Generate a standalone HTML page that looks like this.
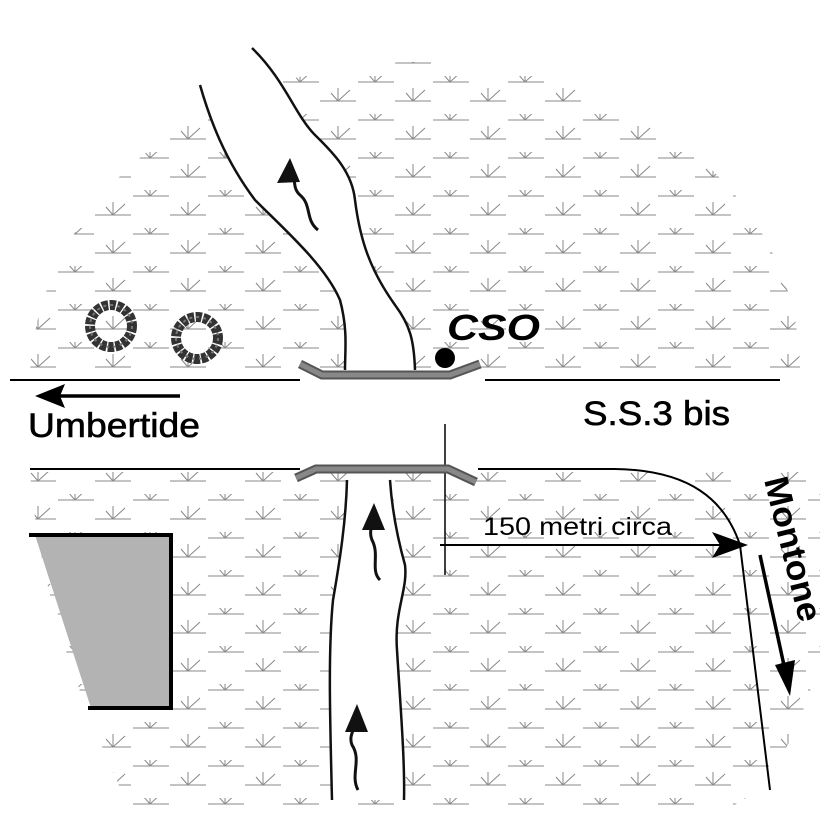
<!DOCTYPE html>
<html><head><style>body{margin:0;background:#fff}svg{display:block}</style></head><body>
<svg width="826" height="826" viewBox="0 0 826 826" xmlns="http://www.w3.org/2000/svg" font-family="Liberation Sans, sans-serif">
<defs>
<pattern id="g" x="0" y="0" width="75" height="38" patternUnits="userSpaceOnUse">
 <g stroke="#888" stroke-width="1" fill="none">
  <line x1="20" y1="25" x2="56" y2="25"/><line x1="38" y1="25" x2="38" y2="12"/>
  <line x1="38" y1="25" x2="31" y2="17"/><line x1="38" y1="25" x2="50" y2="14"/>
  <line x1="-17" y1="6" x2="19" y2="6"/><line x1="58" y1="6" x2="94" y2="6"/>
  <line x1="0" y1="6" x2="0" y2="-7"/><line x1="75" y1="6" x2="75" y2="-7"/>
  <line x1="75" y1="6" x2="68" y2="-2"/><line x1="75" y1="6" x2="87" y2="-5"/>
  <line x1="0" y1="6" x2="12" y2="-5"/>
 </g>
</pattern>
<clipPath id="c1"><path d="M30 372 C40 200 200 62 420 62 C640 62 800 200 800 372 Z"/></clipPath>
<clipPath id="c2"><path d="M30 472 L820 472 L820 660 C790 760 760 800 720 810 L130 810 C80 700 40 600 30 472 Z"/></clipPath>
</defs>
<rect x="0" y="0" width="826" height="826" fill="url(#g)" clip-path="url(#c1)"/>
<rect x="0" y="0" width="826" height="826" fill="url(#g)" clip-path="url(#c2)"/>
<rect x="0" y="378" width="826" height="90" fill="#fff"/>
<!-- rivers -->
<path d="M200 85 C210 120 225 160 255 200 C285 230 325 265 340 300 C348 330 345 350 345 370 L415 370 C414 340 410 325 395 305 C370 270 360 240 355 200 C352 170 330 150 315 135 C295 115 285 80 252 48 Z" fill="#fff"/>
<path d="M200 85 C210 120 225 160 255 200 C285 230 325 265 340 300 C348 330 345 350 345 370 M415 370 C414 340 410 325 395 305 C370 270 360 240 355 200 C352 170 330 150 315 135 C295 115 285 80 252 48" fill="none" stroke="#111" stroke-width="2.5"/>
<path d="M347 480 C346 520 340 560 333 600 C328 650 330 720 332 800 L404 800 C405 760 400 700 397 650 C394 610 408 590 405 565 C398 540 392 510 390 480 Z" fill="#fff"/>
<path d="M347 480 C346 520 340 560 333 600 C328 650 330 720 332 800 M404 800 C405 760 400 700 397 650 C394 610 408 590 405 565 C398 540 392 510 390 480" fill="none" stroke="#111" stroke-width="2.5"/>
<g stroke="#111" stroke-width="3" fill="none">
<path d="M318 230 C305 220 312 205 300 195 C292 188 296 178 292 170"/>
<path d="M380 580 C370 570 380 555 372 540 C368 530 374 522 374 515"/>
<path d="M358 790 C350 775 362 760 352 745 C348 735 356 728 356 720"/>
</g>
<polygon points="277,183 290,158 300,182" fill="#111"/>
<polygon points="362,530 374,503 385,530" fill="#111"/>
<polygon points="345,732 357,704 368,732" fill="#111"/>
<!-- roads -->
<g stroke="#000" stroke-width="2" fill="none">
<line x1="10" y1="380" x2="300" y2="380"/><line x1="485" y1="380" x2="780" y2="380"/>
<line x1="30" y1="469" x2="300" y2="469"/>
<path d="M478 469 L615 469 C690 470 725 500 740 545 L770 790"/>
<line x1="445" y1="424" x2="445" y2="575" stroke-width="1.5"/>
<line x1="440" y1="545" x2="720" y2="545" stroke-width="2"/>
<line x1="180" y1="396" x2="55" y2="396" stroke-width="3.5"/>
<line x1="760" y1="555" x2="785" y2="670" stroke-width="3.5"/>
</g>
<polygon points="748,545 712,532 720,545 712,558" fill="#000"/>
<polygon points="35,396 65,384 60,396 65,408" fill="#000"/>
<polygon points="790,696 775,665 795,660" fill="#000"/>
<!-- bridges -->
<path d="M300 364 L322 375 L450 375 L480 364" fill="none" stroke="#555" stroke-width="9"/>
<path d="M300 364 L322 375 L450 375 L480 364" fill="none" stroke="#888" stroke-width="5"/>
<path d="M296 478 L316 469 L448 469 L476 482" fill="none" stroke="#555" stroke-width="9"/>
<path d="M296 478 L316 469 L448 469 L476 482" fill="none" stroke="#888" stroke-width="5"/>
<circle cx="445" cy="358" r="10" fill="#000"/>
<!-- trees -->
<g fill="none" stroke="#333" stroke-width="10" stroke-dasharray="6,1.5">
<circle cx="111" cy="326" r="21"/><circle cx="197" cy="338" r="21"/>
</g>
<g fill="none" stroke="#777" stroke-width="2" stroke-dasharray="3,4">
<circle cx="111" cy="326" r="21"/><circle cx="197" cy="338" r="21"/>
</g>
<!-- trapezoid -->
<polygon points="35,535 171,535 171,708 91,708" fill="#b3b3b3"/>
<path d="M29 535 L171 535 L171 708 L88 708" fill="none" stroke="#000" stroke-width="4"/>
<!-- text -->
<text x="447" y="340" font-size="36" font-style="italic" font-weight="bold" fill="#000" textLength="93" lengthAdjust="spacingAndGlyphs">CSO</text>
<text x="28" y="437" font-size="34" fill="#000" stroke="#000" stroke-width="0.6" textLength="172" lengthAdjust="spacingAndGlyphs">Umbertide</text>
<text x="583" y="425" font-size="34" fill="#000" stroke="#000" stroke-width="0.6" textLength="147" lengthAdjust="spacingAndGlyphs">S.S.3 bis</text>
<text x="483" y="535" font-size="25" fill="#000" textLength="189" lengthAdjust="spacingAndGlyphs">150 metri circa</text>
<text transform="translate(764,480) rotate(76)" font-size="34" font-weight="bold" fill="#000" textLength="148" lengthAdjust="spacingAndGlyphs">Montone</text>
</svg>
</body></html>
